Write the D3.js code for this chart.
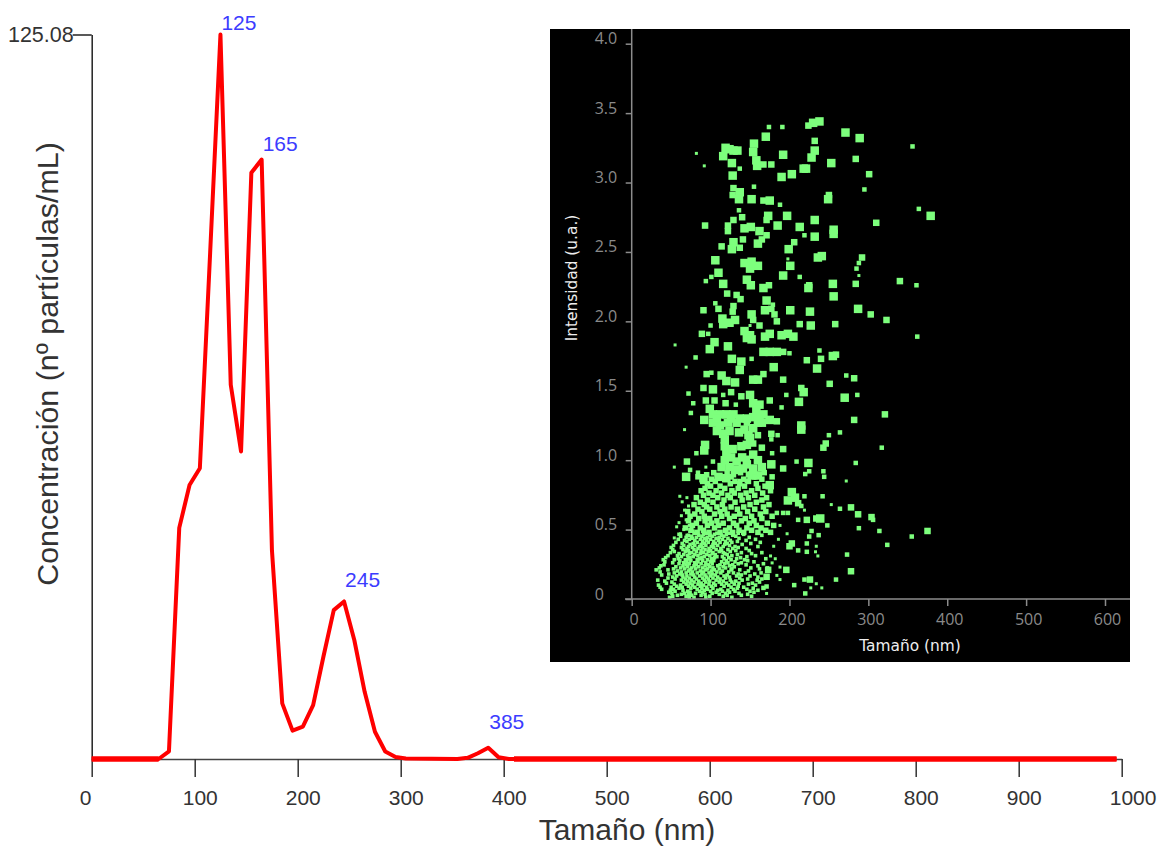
<!DOCTYPE html>
<html>
<head>
<meta charset="utf-8">
<script src="https://cdn.jsdelivr.net/npm/d3@7.9.0/dist/d3.min.js"></script>
<style>
    body { margin: 0; background: #fff; }
    svg { display: block; }
    text { font-family: "Liberation Sans", Arial, sans-serif; }
    .inset text { font-family: "Open Sans", sans-serif; }
    .inset text.title { font-family: "DejaVu Sans", sans-serif; }
</style>
</head>
<body>
<svg width="1164" height="846"></svg>
<script>
// size distribution (nm, concentration)
const sizes = [0, 65, 75, 85, 95, 105, 115, 125, 135, 145, 155, 165, 175, 185, 195, 205, 215, 225, 235, 245, 255, 265, 275, 285, 295, 305, 355, 365, 375, 385, 395, 405, 995];
const concentration = [0, 0, 1.3, 39.9, 47.3, 50.2, 87.4, 125.08, 64.6, 53.1, 101.2, 103.5, 36, 9.6, 4.9, 5.6, 9.3, 17.7, 25.7, 27.2, 20.5, 11.6, 4.7, 1.3, 0.35, 0.1, 0, 0.2, 1, 1.95, 0.3, 0, 0];
const peaks = [125, 165, 245, 385];
const flatRuns = [[0, 65], [410, 995]];
const xTicks = [0, 100, 200, 300, 400, 500, 600, 700, 800, 900, 1000];
const insetXTicks = [0, 100, 200, 300, 400, 500, 600];
const insetYTicks = [0, 0.5, 1, 1.5, 2, 2.5, 3, 3.5, 4];

// scatter, grouped by how big the square looks
const scatterLarge = [[230,3.43],[238,3.44],[271,3.36],[289,3.32],[170,3.33],[232,3.23],[228,3.18],[253,3.14],[218,3.10],[221,3.10],[203,3.06],[190,3.04],[379,2.76],
[119,3.25],[129,3.23],[134,3.23],[124,3.24],[116,3.19],[127,3.14],[155,3.28],[154,3.22],[158,3.16],[159,3.12],[192,3.20],[128,3.05],[137,2.93],[136,2.88],[152,2.88],[175,2.87],[249,2.88],
[173,2.76],[197,2.76],[185,2.69],[213,2.68],[232,2.73],[256,2.66],[256,2.63],[143,2.67],[151,2.68],[162,2.65],[160,2.56],[232,2.61],[199,2.52],[129,2.57],[127,2.52],
[241,2.47],[236,2.46],[201,2.40],[192,2.33],[106,2.44],[110,2.35],[143,2.42],[152,2.43],[160,2.40],[150,2.38],[146,2.30],[151,2.26],[116,2.27],[167,2.24],[224,2.24],[255,2.27],[256,2.18],
[171,2.15],[169,2.08],[201,2.08],[226,2.07],[287,2.09],[152,2.05],[115,2.02],[116,1.98],[124,1.99],[131,2.01],[227,1.97],
[143,1.93],[150,1.90],[146,1.88],[152,1.87],[169,1.89],[175,1.91],[190,1.90],[198,1.91],[205,1.89],[105,1.85],[99,1.80],[122,1.82],
[167,1.78],[175,1.78],[184,1.78],[127,1.73],[139,1.71],[137,1.65],[180,1.67],[255,1.75],[235,1.66],[114,1.61],[120,1.57],[131,1.56],[154,1.58],[160,1.58],[218,1.49],[103,1.51],[150,1.47],[270,1.45],
[154,1.41],[162,1.40],[212,1.42],[158,1.36],[99,1.37],[92,1.29],[103,1.33],[112,1.33],[120,1.33],[129,1.33],[137,1.30],[103,1.27],[112,1.25],[122,1.27],[133,1.27],[154,1.31],[167,1.33],[175,1.29],
[143,1.22],[154,1.23],[116,1.19],[150,1.16],[215,1.25],[215,1.22],[93,1.11],[92,1.07],[118,1.15],[118,1.10],[120,1.05],[139,1.10],[146,1.11],
[118,1.0],[133,.99],[154,1.04],[114,.95],[131,.93],[141,.94],[154,.94],[165,.95],[152,.89],[160,.89],[177,.97],[224,.98],[69,.88],[91,.87],[110,.88],[120,.87],[175,.82],[203,.77],[207,.73],[198,.71],[239,.58],
[108,1.30],[126,1.30],[146,1.30],[160,1.27],[108,1.21],[124,1.21],[165,1.27],[136,1.20],[162,1.31],[128,1.08],[126,1.02],[148,1.18],[140,1.02],[124,.95],[146,.97],[160,1.0]];

const scatterMedium = [[224,3.41],[232,3.30],[284,3.17],[301,3.06],[310,2.71],[167,3.13],[177,3.13],[129,2.96],[128,2.91],[167,2.87],[250,2.91],[140,2.75],[129,2.73],[171,2.73],
[93,2.69],[122,2.69],[122,2.65],[141,2.59],[171,2.62],[165,2.59],[206,2.57],[114,2.54],[137,2.53],[292,2.46],[284,2.27],[174,2.26],[225,2.26],[340,2.29],[121,2.20],[133,2.19],[138,2.16],[110,2.09],[91,2.08],
[129,2.11],[128,2.07],[177,2.09],[181,2.05],[184,2.0],[303,2.05],[323,2.01],[154,2.01],[162,1.97],[213,1.98],[258,1.98],[89,1.91],[192,1.78],[240,1.73],[259,1.76],[222,1.72],[95,1.62],[167,1.62],[192,1.58],[282,1.59],[251,1.55],
[215,1.52],[91,1.52],[126,1.49],[139,1.46],[94,1.43],[105,1.43],[119,1.41],[175,1.43],[321,1.33],[282,1.29],[146,1.27],[184,1.28],[160,1.18],[177,1.19],[246,1.12],[243,1.09],[154,1.12],[165,1.09],[192,1.08],[146,1.01],[192,.94],[70,.99],
[211,.69],[287,.61],[304,.59],[375,.49],[234,.58],[222,.57],[203,.40],[200,.38],[278,.20],[226,.14],[196,.21],[173,.21],[171,.16],[278,.66]];

const scatterSmall = [[174,3.40],[191,3.40],[295,2.95],[356,3.26],[364,2.81],[137,3.10],[155,2.97],[188,2.84],[136,2.80],[219,2.62],[288,2.42],[285,2.38],[213,2.32],[101,2.32],[94,2.29],[361,2.26],[106,2.13],[179,2.12],[100,1.97],[362,1.89],[97,1.91],
[200,1.77],[81,1.74],[152,1.73],[238,1.79],[101,1.63],[272,1.61],[116,1.47],[72,1.48],[196,1.47],[286,1.47],[78,1.41],[132,1.40],[190,1.38],[75,1.34],[264,1.20],[250,1.18],[185,1.18],[177,1.15],[317,1.09],[82,1.05],[178,1.05],[209,.99],[284,.98],
[84,.91],[103,.99],[74,.93],[243,.92],[244,.88],[225,.92],[220,.90],[137,.85],[146,.85],[219,.74],[242,.74],[264,.65],[306,.57],[288,.51],[314,.49],[324,.39],[355,.45],[211,.57],[248,.53],[228,.49],[225,.45],[237,.46],[198,.62],[192,.62],[184,.62],[215,.67],
[211,.35],[222,.40],[222,.34],[273,.32],[259,.14],[219,.14],[206,.10],[220,.04],[167,.08],[171,.09]];

const scatterFine = [[82,3.21],[92,3.12],[198,2.45],[288,2.33],[150,1.97],[55,1.83],[69,1.67],[67,1.22],[54,.95],[94,.95],[272,.85],[253,.68],[219,.64],[188,.53],[197,.47],[234,.38],[233,.34],[236,.31],[227,.08],[234,.11],[241,.08],[188,.23],[188,.14],[184,.17],[171,.04],
[61,.74],[64,.70],[70,.73],[67,.64],[72,.67],[63,.60],[69,.57],[60,.55],[73,.53],[66,.50],[57,.52],[78,.49],[62,.47],[70,.46],[54,.44],[186,.43],[180,.38],[176,.31],[182,.29],[178,.26]];

// the packed bottom of the cloud: intensity, then the sizes seen at that height
const denseLow = [
[.012,[48,73,79,94,127]],[.02,[52,69,99,116,152]],[.027,[58,76,88,121,139]],[.034,[63,72,93,111,147]],
[.041,[51,67,81,102,119,136]],[.049,[47,74,90,107,124,155]],[.056,[55,71,86,100,115,131,150]],[.063,[49,65,92,109,122,160]],
[.07,[38,53,83,96,113,129,146]],[.078,[60,75,89,103,134,154]],[.085,[36,50,64,80,95,126,142]],[.092,[57,72,87,101,117,135]],
[.1,[34,62,77,91,106,123,157]],[.107,[54,69,84,98,114,130,148]],[.114,[44,74,88,104,120,136,153]],[.122,[51,66,79,94,111,127,162]],
[.129,[42,71,85,99,116,132]],[.136,[33,63,76,92,107,125,140,159]],[.144,[55,68,82,97,112,147,165]],[.151,[46,73,90,103,119,137]],
[.158,[52,65,80,95,109,124,160]],[.166,[57,70,86,100,117,133,150]],[.173,[38,64,78,93,106,121,139]],[.18,[47,61,75,89,102,135,156]],
[.188,[54,69,83,98,113,129,144,164]],[.195,[36,63,77,91,108,123]],[.202,[58,72,87,101,115,148]],[.21,[31,46,74,94,105,126,137]],
[.217,[53,67,81,96,111,127,162]],[.224,[35,62,76,90,103,119,151,172]],[.232,[56,71,85,99,116,130]],[.239,[37,65,79,93,109,124,160]],
[.246,[41,69,82,97,112,128,145]],[.254,[60,73,88,102,118,135,167]],[.261,[52,66,80,94,122,139]],[.268,[42,70,84,100,114,131,155]],
[.276,[61,75,90,104,120,147]],[.283,[40,54,68,83,96,126,143]],[.29,[59,72,86,101,117,133,170]],[.298,[43,74,89,105,123,138]],
[.305,[63,78,92,108,115,146]],[.312,[46,58,71,84,99,127,157]],[.32,[66,80,95,106,121,134]],[.327,[60,73,87,102,118,152]],
[.334,[49,76,91,103,116,139,165]],[.342,[54,68,82,97,111,125]],[.349,[72,88,100,114,132,149]],[.356,[52,65,79,93,107,122]],
[.364,[70,84,98,113,128,145]],[.371,[50,63,77,90,104,135]],[.378,[72,86,101,116,131,160]],[.386,[53,66,80,94,109,124]],
[.393,[74,88,103,118,140]],[.4,[64,78,92,106,121,151]],[.408,[56,83,97,112,127,163]],[.415,[70,90,104,119,134]],
[.422,[67,80,95,110,125,145]],[.43,[59,73,87,100,115,157]],[.437,[77,92,107,122,136]],[.444,[69,82,96,111,149]],
[.452,[62,76,89,102,117,132]],[.459,[72,85,99,114,128,165]],[.466,[60,91,105,120,142]],[.474,[79,94,108,123,135]]
];

// the heavier squares between about 0.5 and 0.9
const denseMid = [
[.48,[83,98,112,128,142,160,176]],[.495,[75,91,119,136,152,170]],[.512,[68,87,105,124,146,164]],[.53,[77,96,110,133,158,180]],[.546,[82,101,116,129,149,172]],[.563,[72,93,108,139,155]],
[.58,[85,99,124,144,165]],[.596,[74,92,114,130,152,178]],[.612,[80,105,121,137,163]],[.63,[71,89,112,147,170]],[.647,[84,99,118,134,156]],[.663,[95,108,126,142,167]],
[.68,[79,92,115,150,174]],[.697,[87,103,131,158]],[.713,[96,117,140,165]],[.73,[82,109,125,148,171]],[.747,[91,103,122,138,156]],[.763,[98,114,130,145,166]],
[.78,[88,107,127,152,176]],[.797,[93,118,135,160]],[.813,[100,112,143,169]],[.83,[96,125,137,158]],[.847,[90,106,131,148]],[.863,[101,118,142,165]],
[.88,[84,112,126,156,178]],[.895,[95,129,148]],[.91,[104,121,138,168]]
];

const svg = d3.select('svg');

const x = d3.scaleLinear().domain([0, 1000]).range([91.7, 1121.7]);
const y = d3.scaleLinear().domain([0, 125.08]).range([759, 34.5]);

const xAxis = svg.append('g')
    .attr('transform', 'translate(0,759)')
    .call(d3.axisBottom(x).tickValues(xTicks).tickSize(18).tickSizeOuter(0).tickFormat(d3.format('d')));
xAxis.select('.domain').attr('stroke', '#444').attr('stroke-width', 1.5);
xAxis.selectAll('line').attr('stroke', '#333').attr('stroke-width', 1.5);
xAxis.selectAll('text')
    .attr('y', 46)
    .attr('dy', 0)
    .attr('dx', -12.5)
    .attr('text-anchor', 'start')
    .attr('fill', '#333')
    .attr('font-size', 21);

const yAxis = svg.append('g')
    .attr('transform', 'translate(91.7,0)')
    .call(d3.axisLeft(y).tickValues([125.08]).tickSize(19).tickSizeOuter(0).tickFormat(d3.format('.2f')));
yAxis.select('.domain').attr('stroke', '#222').attr('stroke-width', 1.5);
yAxis.selectAll('line').attr('stroke', '#222').attr('stroke-width', 1.5);
yAxis.selectAll('text')
    .attr('x', -18)
    .attr('fill', '#333')
    .attr('font-size', 21.5);

svg.append('text')
    .attr('x', 627).attr('y', 840)
    .attr('text-anchor', 'middle')
    .attr('font-size', 30)
    .attr('fill', '#333')
    .text('Tamaño (nm)');

svg.append('text')
    .attr('transform', 'translate(58,364) rotate(-90)')
    .attr('text-anchor', 'middle')
    .attr('font-size', 30.4)
    .attr('fill', '#333')
    .text('Concentración (nº partículas/mL)');

const line = d3.line().x((d) => x(d[0])).y((d) => y(d[1]));

svg.append('path')
    .attr('d', line(d3.zip(sizes, concentration)))
    .attr('fill', 'none')
    .attr('stroke', '#ff0000')
    .attr('stroke-width', 4)
    .attr('stroke-linejoin', 'round');

// the flat stretches look heavier than the curve
flatRuns.forEach((run) => {
    svg.append('path')
        .attr('d', line(run.map((v) => [v, 0])))
        .attr('stroke', '#ff0000')
        .attr('stroke-width', 5.5);
});

const peakDy = [-4.5, -8.5, -14, -19];
peaks.forEach((p, i) => {
    svg.append('text')
        .attr('x', x(p) + 1)
        .attr('y', y(concentration[sizes.indexOf(p)]) + peakDy[i])
        .attr('font-size', 21)
        .attr('fill', '#3c3cff')
        .text(p);
});

// inset
const inset = svg.append('g').attr('class', 'inset');
inset.append('rect')
    .attr('x', 550).attr('y', 29)
    .attr('width', 580).attr('height', 633)
    .attr('fill', '#000');

const xIn = d3.scaleLinear().domain([0, 600]).range([631.7, 1105]);
const yIn = d3.scaleLinear().domain([0, 4]).range([599, 43.7]);

const unrow = (rows) => rows.flatMap(([v, row]) => row.map((s) => [s, v]));
const scatterGroups = [
    [scatterLarge, 8.5],
    [scatterMedium, 6.5],
    [scatterSmall, 4.5],
    [scatterFine, 3],
    [unrow(denseMid), 5.5],
    [unrow(denseLow), 3.6],
];
scatterGroups.forEach(([pts, side]) => {
    inset.append('g').selectAll('rect')
        .data(pts)
        .join('rect')
        .attr('x', (d) => xIn(d[0]) - side / 2)
        .attr('y', (d) => yIn(d[1]) - side / 2)
        .attr('width', side)
        .attr('height', side)
        .attr('fill', '#7dff7d');
});

const xInAxis = inset.append('g')
    .attr('transform', 'translate(0,599)')
    .call(d3.axisBottom(xIn).tickValues(insetXTicks).tickSize(7).tickSizeOuter(0).tickFormat(d3.format('d')));
xInAxis.select('.domain').attr('d', 'M625,0H1130').attr('stroke', '#8c8c8c').attr('stroke-width', 1.5);
xInAxis.selectAll('line').attr('stroke', '#8c8c8c').attr('stroke-width', 1.5);
xInAxis.selectAll('text')
    .attr('y', 26).attr('dy', 0).attr('dx', 2)
    .attr('fill', '#8a8a8a')
    .attr('font-size', 16);

const yInAxis = inset.append('g')
    .attr('transform', 'translate(631.7,0)')
    .call(d3.axisLeft(yIn).tickValues(insetYTicks).tickSize(6).tickSizeOuter(0).tickFormat((d) => (d === 0 ? '0' : d.toFixed(1))));
yInAxis.select('.domain').attr('d', 'M0,29V599').attr('stroke', '#8c8c8c').attr('stroke-width', 1.5);
yInAxis.selectAll('line').attr('stroke', '#8c8c8c').attr('stroke-width', 1.5);
yInAxis.selectAll('text')
    .attr('x', -37).attr('dy', 0)
    .attr('text-anchor', 'start')
    .attr('fill', '#8a8a8a')
    .attr('font-size', 16);

inset.append('text')
    .attr('class', 'title')
    .attr('x', 910).attr('y', 651)
    .attr('text-anchor', 'middle')
    .attr('font-size', 15.4)
    .attr('fill', '#eee')
    .text('Tamaño (nm)');

inset.append('text')
    .attr('class', 'title')
    .attr('transform', 'translate(577,278) rotate(-90)')
    .attr('text-anchor', 'middle')
    .attr('font-size', 15.4)
    .attr('fill', '#eee')
    .text('Intensidad (u.a.)');
</script>
</body>
</html>
